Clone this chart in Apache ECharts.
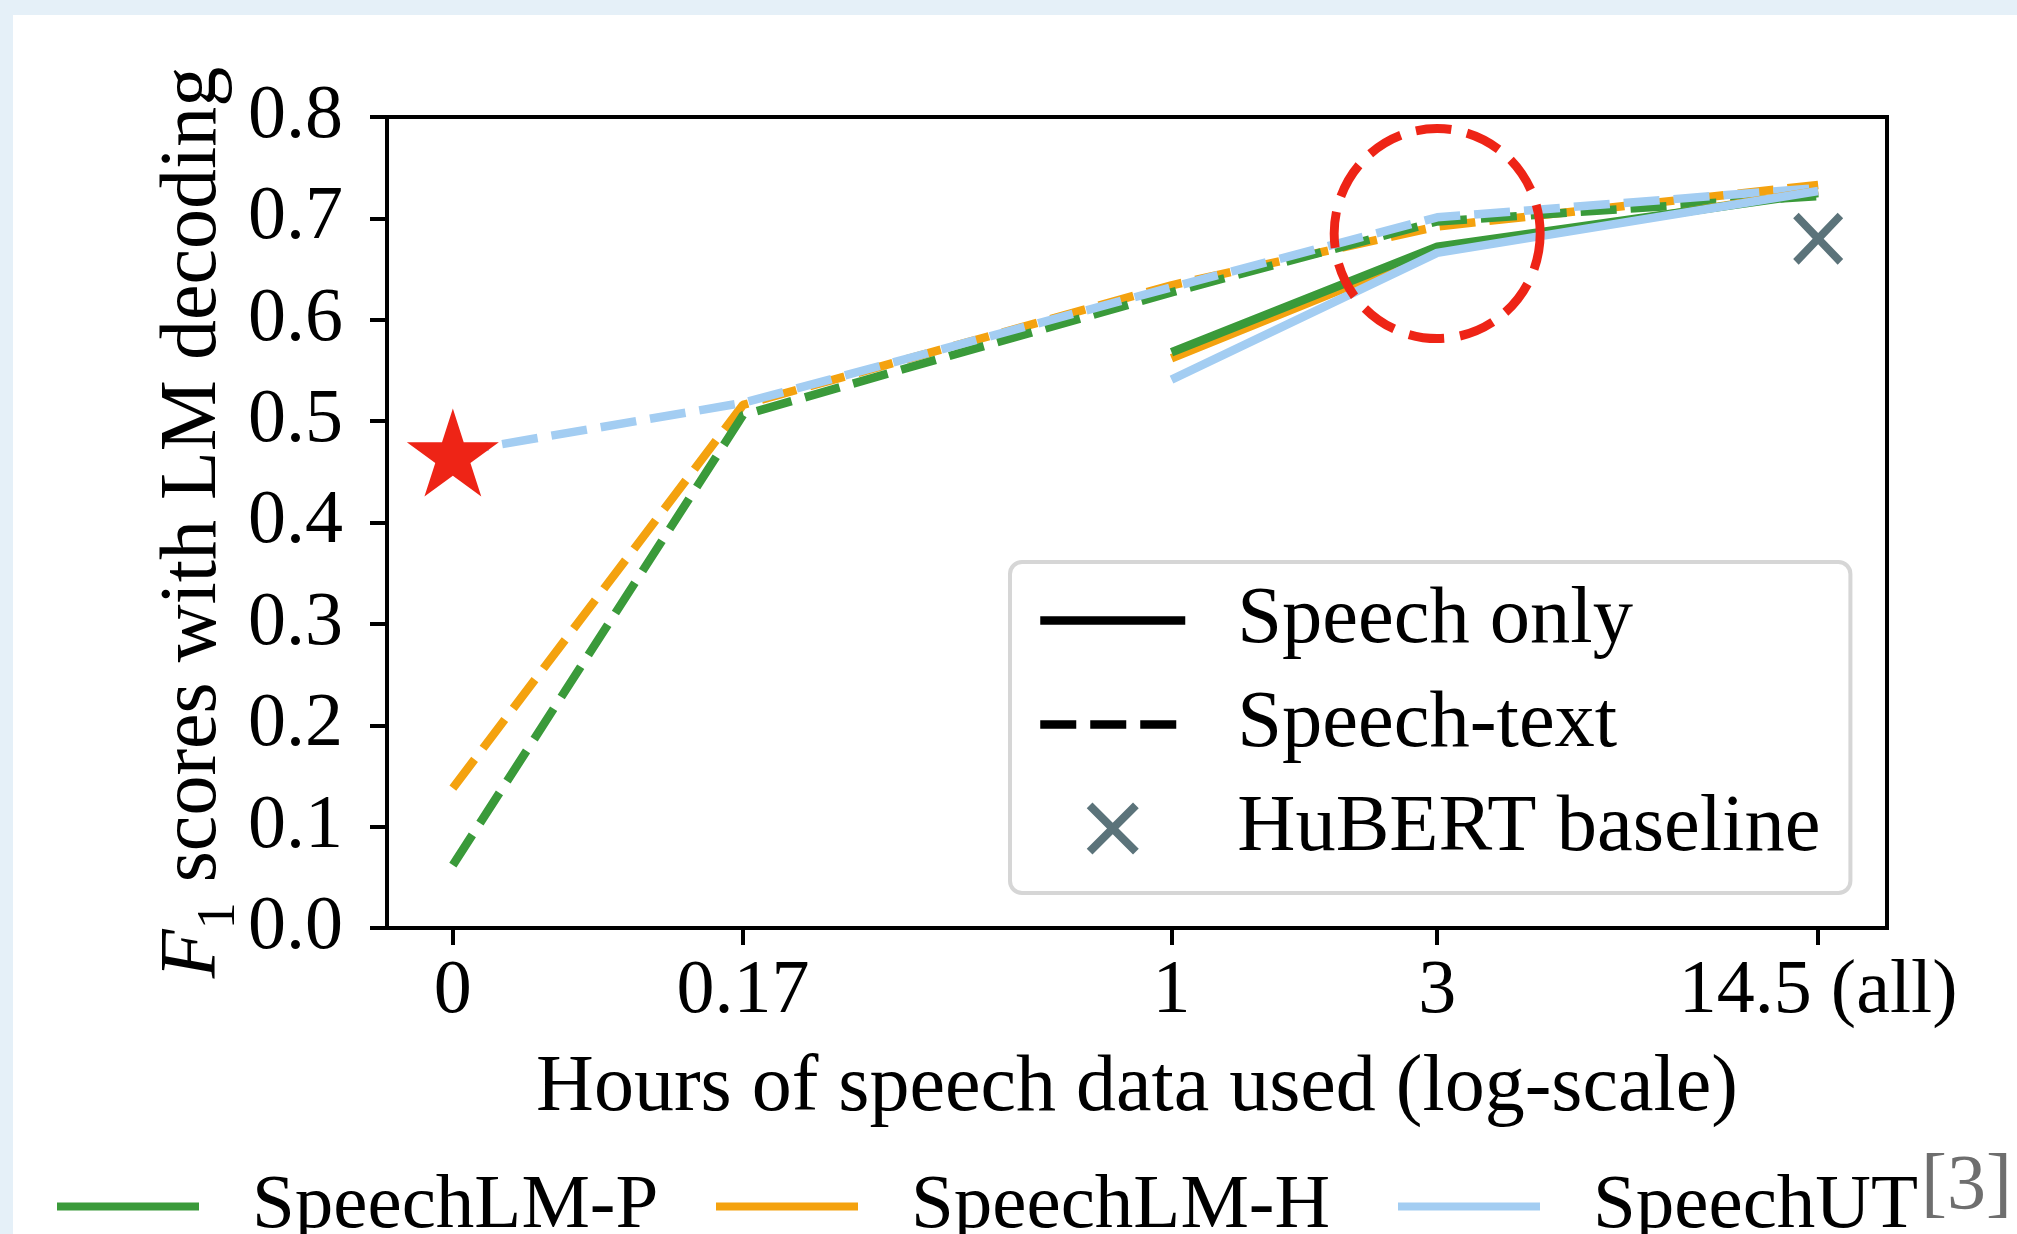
<!DOCTYPE html>
<html>
<head>
<meta charset="utf-8">
<script src="https://cdn.jsdelivr.net/npm/echarts@6/dist/echarts.min.js"></script>
<style>
html,body{margin:0;padding:0;background:#fff;}
#chart{width:2017px;height:1234px;}
</style>
</head>
<body>
<div id="chart"></div>
<script>
// ---- data ----
const hours = [0, 0.17, 1, 3, 14.5];
const zeroStandIn = 0.0512; // position used for the "0" tick on the log axis
const xTickLabels = ['0', '0.17', '1', '3', '14.5 (all)'];

// Speech-text (dashed)
const speechLMP_text = [0.062, 0.506, 0.627, 0.697, 0.722];
const speechLMH_text = [0.138, 0.516, 0.634, 0.692, 0.733];
const speechUT_text  = [0.469, 0.518, 0.632, 0.701, 0.730];
// Speech only (solid)
const speechLMP_only = [null, null, 0.568, 0.672, 0.725];
const speechLMH_only = [null, null, 0.562, 0.668, 0.727];
const speechUT_only  = [null, null, 0.541, 0.666, 0.727];
// HuBERT baseline
const hubertHours = [14.5];
const hubertF1 = [0.680];
// Star marker (start of SpeechUT)
const starHours = [0];
const starF1 = [0.469];
// Highlight ellipse centre
const highlightHours = [3];
const highlightF1 = [0.685];

// ---- helpers ----
const toPos = h => Math.log10(h === 0 ? zeroStandIn : h);
const tickPos = hours.map(toPos);
const pts = vals => hours.map((h, i) => vals[i] == null ? null : [toPos(h), vals[i]]).filter(p => p);
const pair = (hs, vs) => hs.map((h, i) => [toPos(h), vs[i]]);

const FONT = '"Liberation Serif", "Times New Roman", serif';
const GREEN = '#3a9a3a', ORANGE = '#f4a20f', BLUE = '#a3cdf2', RED = '#ee2416', GREY = '#5b737a';
const DASH = [36, 14];
const LW = 8.5;

function starPath() {
  let d = '';
  for (let k = 0; k < 10; k++) {
    const a = (-90 + k * 36) * Math.PI / 180;
    const r = k % 2 ? 0.382 : 1;
    d += (k ? 'L' : 'M') + (r * Math.cos(a)).toFixed(4) + ',' + (r * Math.sin(a)).toFixed(4);
  }
  return 'path://' + d + 'Z';
}
const X_PATH = 'path://M0,1.1L1.1,0L5,3.9L8.9,0L10,1.1L6.1,5L10,8.9L8.9,10L5,6.1L1.1,10L0,8.9L3.9,5Z';

function lineSeries(name, color, vals, dashed, z) {
  return {
    type: 'line', name, color, data: pts(vals), symbol: 'none', showSymbol: false,
    lineStyle: { width: LW, type: dashed ? DASH : 'solid', color, cap: 'butt' },
    z, silent: true, emphasis: { disabled: true }
  };
}

const chart = echarts.init(document.getElementById('chart'), null, { renderer: 'canvas' });

const bottomLegend = (name, left) => ({
  data: [name], left, top: 1168, orient: 'horizontal', icon: 'rect',
  itemWidth: 142, itemHeight: 8, padding: 0, selectedMode: false,
  textStyle: { fontFamily: FONT, fontSize: 77, color: '#000', padding: [0, 0, 0, 48] }
});

chart.setOption({
  animation: false,
  backgroundColor: '#ffffff',
  grid: {
    left: 387, right: 130, top: 117, bottom: 306, show: true,
    borderColor: '#000', borderWidth: 4, backgroundColor: 'rgba(0,0,0,0)',
    containLabel: false, outerBoundsMode: 'none'
  },
  xAxis: {
    type: 'value', min: -1.409, max: 1.285,
    name: 'Hours of speech data used (log-scale)', nameLocation: 'middle', nameGap: 121,
    nameMoveOverlap: false,
    nameTextStyle: { fontFamily: FONT, fontSize: 80, color: '#000' },
    splitLine: { show: false },
    axisLine: { show: true, onZero: false, lineStyle: { color: '#000', width: 4 } },
    axisTick: { show: true, customValues: tickPos, length: 17, lineStyle: { color: '#000', width: 4 } },
    axisLabel: {
      customValues: tickPos, margin: 26, fontFamily: FONT, fontSize: 76, color: '#000',
      formatter: v => {
        let best = 0;
        tickPos.forEach((p, i) => { if (Math.abs(p - v) < Math.abs(tickPos[best] - v)) best = i; });
        return xTickLabels[best];
      }
    }
  },
  yAxis: {
    type: 'value', min: 0, max: 0.8, interval: 0.1,
    name: '{f|F}{s|1} scores with LM decoding', nameLocation: 'middle', nameGap: 140,
    nameMoveOverlap: false,
    nameTextStyle: {
      fontFamily: FONT, fontSize: 80, color: '#000',
      rich: {
        f: { fontFamily: FONT, fontSize: 80, fontStyle: 'italic', color: '#000' },
        s: { fontFamily: FONT, fontSize: 54, color: '#000', verticalAlign: 'bottom', lineHeight: 106 }
      }
    },
    splitLine: { show: false },
    axisLine: { show: true, onZero: false, lineStyle: { color: '#000', width: 4 } },
    axisTick: { show: true, length: 17, lineStyle: { color: '#000', width: 4 } },
    axisLabel: { margin: 44, fontFamily: FONT, fontSize: 76, color: '#000', padding: [6, 0, 0, 0],
      formatter: v => v.toFixed(1) }
  },
  legend: [
    {
      data: [
        { name: 'Speech only', itemStyle: { opacity: 0 } },
        { name: 'Speech-text', itemStyle: { opacity: 0 } },
        { name: 'HuBERT baseline', icon: X_PATH, itemStyle: { color: GREY, opacity: 1 } }
      ],
      orient: 'vertical', left: 1010, top: 562,
      itemWidth: 145, itemHeight: 52, itemGap: 23,
      padding: [18, 30, 24, 26],
      backgroundColor: '#fff', borderColor: '#d6d6d6', borderWidth: 4, borderRadius: 12,
      selectedMode: false,
      lineStyle: { width: 8.5 },
      textStyle: { fontFamily: FONT, fontSize: 80.5, color: '#000', padding: [0, 0, 0, 47] }
    },
    bottomLegend('SpeechLM-P', 57),
    bottomLegend('SpeechLM-H', 716),
    bottomLegend('SpeechUT', 1398)
  ],
  graphic: [
    { type: 'rect', shape: { x: 0, y: 0, width: 2017, height: 15 }, style: { fill: '#e5f0f8' }, silent: true },
    { type: 'rect', shape: { x: 0, y: 0, width: 13, height: 1234 }, style: { fill: '#e5f0f8' }, silent: true },
    { type: 'text', x: 1921, y: 1188, silent: true,
      style: { text: '[3]', fontFamily: FONT, fontSize: 78, fill: '#6e6e6e', align: 'left', verticalAlign: 'middle' } }
  ],
  series: [
    lineSeries('SpeechLM-H', ORANGE, speechLMH_text, true, 2),
    lineSeries('SpeechLM-P', GREEN, speechLMP_text, true, 2),
    lineSeries('SpeechUT', BLUE, speechUT_text, true, 2),
    lineSeries('SpeechLM-H', ORANGE, speechLMH_only, false, 3),
    lineSeries('SpeechLM-P', GREEN, speechLMP_only, false, 3),
    lineSeries('SpeechUT', BLUE, speechUT_only, false, 3),
    { type: 'line', name: 'Speech only', data: [], color: '#000', symbol: 'none', showSymbol: false,
      lineStyle: { color: '#000', width: 8.5, type: 'solid' } },
    { type: 'line', name: 'Speech-text', data: [], color: '#000', symbol: 'none', showSymbol: false,
      lineStyle: { color: '#000', width: 8.5, type: DASH } },
    { type: 'scatter', name: 'HuBERT baseline', data: pair(hubertHours, hubertF1), color: GREY,
      symbol: X_PATH, symbolSize: [50, 52], z: 5, silent: true, itemStyle: { color: GREY, opacity: 1 } },
    { type: 'scatter', name: 'highlight', data: pair(highlightHours, highlightF1),
      symbol: 'circle', symbolSize: [206, 210], z: 6, silent: true,
      itemStyle: { color: 'rgba(0,0,0,0)', opacity: 1, borderColor: RED, borderWidth: 9, borderType: [36, 16] } },
    { type: 'scatter', name: 'start', data: pair(starHours, starF1),
      symbol: starPath(), symbolSize: [92, 88], z: 7, silent: true, itemStyle: { color: RED, opacity: 1 } }
  ]
});
</script>
</body>
</html>
